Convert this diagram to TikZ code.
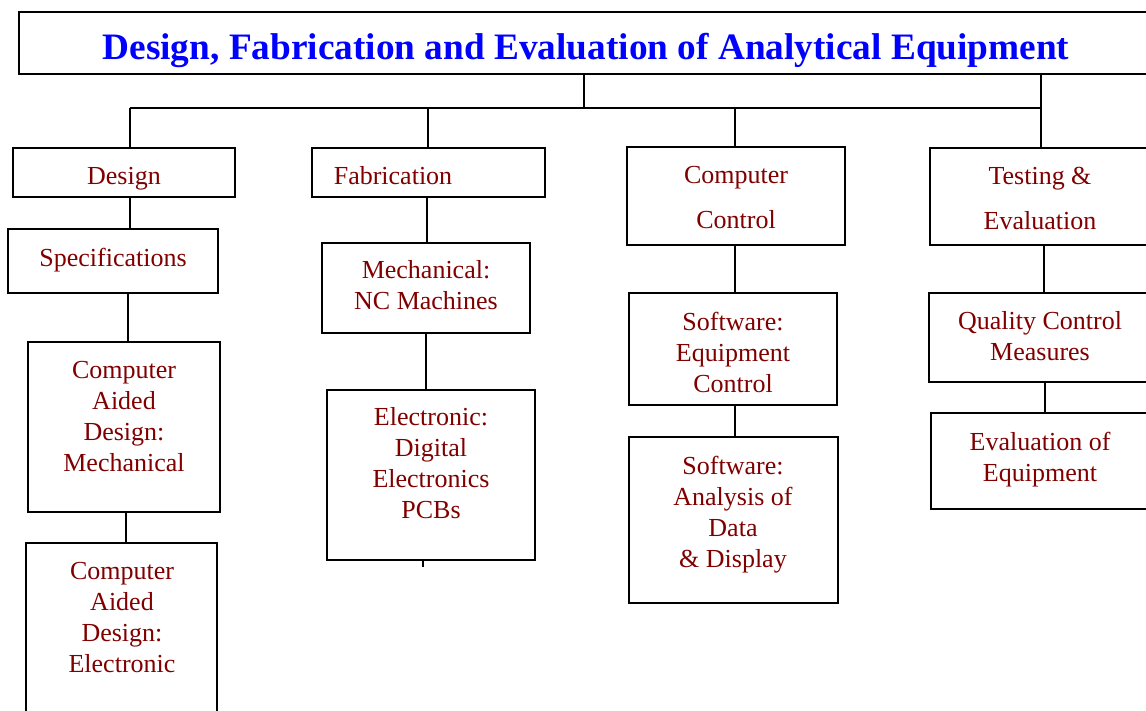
\documentclass[tikz,border=0pt]{standalone}
\usepackage{fontspec}
\setmainfont{Liberation Serif}
\definecolor{maroon}{RGB}{128,0,0}
\definecolor{ttlblue}{RGB}{0,0,255}
\tikzset{
  box/.style={draw=black, line width=1.6pt, rectangle, inner sep=0pt},
  lbl/.style={text=maroon, align=center, inner sep=0pt, font=\fontsize{26}{31}\selectfont},
  wlbl/.style={text=maroon, align=center, inner sep=0pt, font=\fontsize{26}{45}\selectfont},
  ttl/.style={text=ttlblue, inner sep=0pt, font=\fontsize{37.3}{44}\selectfont\bfseries},
  conn/.style={draw=black, line width=1.4pt}
}
\begin{document}
\begin{tikzpicture}[x=1pt,y=-1pt]
\useasboundingbox (0,0) rectangle (1146,710);
\clip (0,0) rectangle (1146,710);
% boxes
\node[box, minimum width=1141, minimum height=62] (title) at (589.5,43) {};
\node[box, minimum width=222, minimum height=49] (design) at (124,172.5) {};
\node[box, minimum width=233, minimum height=49] (fab) at (428.5,172.5) {};
\node[box, minimum width=218, minimum height=98] (comp) at (736,196) {};
\node[box, minimum width=230, minimum height=97] (test) at (1045,196.5) {};
\node[box, minimum width=210, minimum height=64] (spec) at (113,261) {};
\node[box, minimum width=192, minimum height=170] (cadm) at (124,427) {};
\node[box, minimum width=191, minimum height=177] (cade) at (121.5,631.5) {};
\node[box, minimum width=208, minimum height=90] (mech) at (426,288) {};
\node[box, minimum width=208, minimum height=170] (elec) at (431,475) {};
\node[box, minimum width=208, minimum height=112] (swc) at (733,349) {};
\node[box, minimum width=209, minimum height=166] (swa) at (733.5,520) {};
\node[box, minimum width=231, minimum height=89] (qc) at (1044.5,337.5) {};
\node[box, minimum width=229, minimum height=96] (evalb) at (1045.5,461) {};
% texts
\node[ttl] (ttltext) at (586,50) {Design, Fabrication and Evaluation of Analytical Equipment};
\node[lbl] (tdesign) at (124,179) {Design};
\node[lbl] (tfab) at (393,176) {Fabrication};
\node[wlbl] (tcomp) at (736,197.5) {Computer\\Control};
\node[wlbl] (ttest) at (1040,198.5) {Testing \&\\Evaluation};
\node[lbl] (tspec) at (113,260) {Specifications};
\node[lbl] (tcadm) at (124,416.5) {Computer\\Aided\\Design:\\Mechanical};
\node[lbl] (tcade) at (122,617.5) {Computer\\Aided\\Design:\\Electronic};
\node[lbl] (tmech) at (426,285.5) {Mechanical:\\NC Machines};
\node[lbl] (telec) at (431,463.5) {Electronic:\\Digital\\Electronics\\PCBs};
\node[lbl] (tswc) at (733,352) {Software:\\Equipment\\Control};
\node[lbl] (tswa) at (733,514.5) {Software:\\Analysis of\\Data\\\& Display};
\node[lbl] (tqc) at (1040,336.5) {Quality Control\\Measures};
\node[lbl] (teval) at (1040,459.5) {Evaluation of\\Equipment};
% connectors
\coordinate (hub) at (584,108);
\coordinate (hl) at (130,108);
\coordinate (hr) at (1041,108);
\coordinate (stub) at (423,567);
\draw[conn] (title.south -| hub) -- (hub);
\draw[conn] (hl) -- (hr);
\draw[conn] (hl) -- (design.north -| hl);
\draw[conn] (428,108) -- (fab.north -| 428,0);
\draw[conn] (735,108) -- (comp.north -| 735,0);
\draw[conn] (title.south -| hr) -- (test.north -| hr);
\draw[conn] (design.south -| 130,0) -- (spec.north -| 130,0);
\draw[conn] (spec.south -| 128,0) -- (cadm.north -| 128,0);
\draw[conn] (cadm.south -| 126,0) -- (cade.north -| 126,0);
\draw[conn] (fab.south -| 427,0) -- (mech.north -| 427,0);
\draw[conn] (mech.south -| 426,0) -- (elec.north -| 426,0);
\draw[conn] (elec.south -| stub) -- (stub);
\draw[conn] (comp.south -| 735,0) -- (swc.north -| 735,0);
\draw[conn] (swc.south -| 735,0) -- (swa.north -| 735,0);
\draw[conn] (test.south -| 1044,0) -- (qc.north -| 1044,0);
\draw[conn] (qc.south -| 1045,0) -- (evalb.north -| 1045,0);
\end{tikzpicture}
\end{document}
